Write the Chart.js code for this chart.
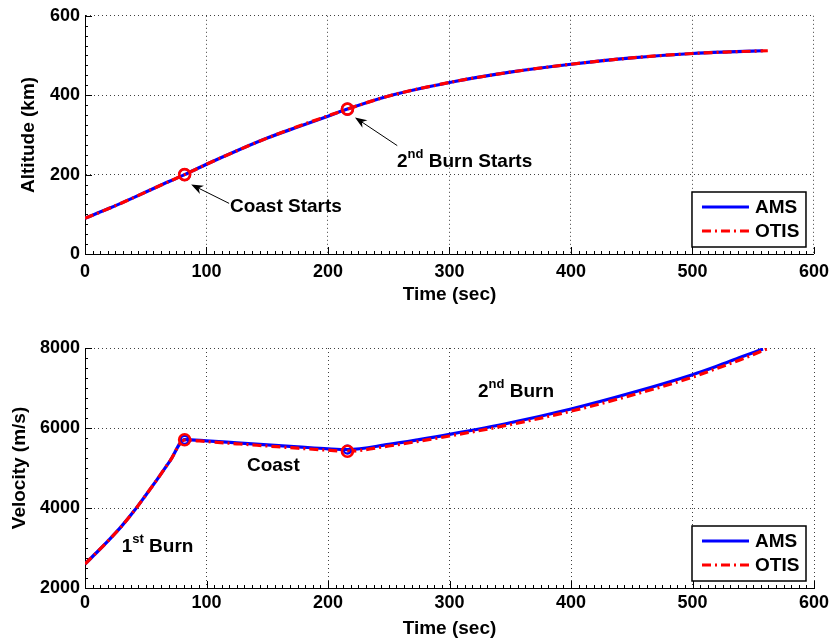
<!DOCTYPE html>
<html>
<head>
<meta charset="utf-8">
<script src="https://cdn.jsdelivr.net/npm/chart.js@4.4.0/dist/chart.umd.min.js"></script>
<style>
  html, body { margin: 0; padding: 0; background: #fff; }
  #wrap { position: relative; width: 836px; height: 643px; }
  canvas { position: absolute; left: 0; }
  #altitude { top: 0; }
  #velocity { top: 320px; }
</style>
</head>
<body>
<div id="wrap">
  <canvas id="altitude" width="836" height="320"></canvas>
  <canvas id="velocity" width="836" height="323"></canvas>
</div>
<script>
// altitude history (km)
const amsAltTime  = [0, 20, 40, 60, 82, 100, 125, 150, 175, 200, 216, 250, 300, 350, 400, 450, 500, 530, 558];
const amsAlt      = [90, 115, 142, 170, 200, 226, 260, 292, 320, 347, 365, 398, 432, 458, 478, 494, 505, 509, 512];
const otisAltTime = [0, 20, 40, 60, 82, 100, 125, 150, 175, 200, 216, 250, 300, 350, 400, 450, 500, 530, 562];
const otisAlt     = [90, 115, 142, 170, 200, 226, 260, 292, 321, 348, 365, 398, 432, 458, 478, 494, 505, 509, 512];

// velocity history (m/s)
const amsVelTime  = [0, 10, 20, 30, 40, 50, 60, 70, 82, 100, 125, 150, 175, 200, 216, 250, 275, 300, 350, 400, 450, 500, 520, 540, 558];
const amsVel      = [2600, 2900, 3210, 3540, 3910, 4320, 4740, 5180, 5710, 5680, 5630, 5580, 5530, 5480, 5460,
                     5590, 5710, 5840, 6130, 6475, 6880, 7333, 7545, 7775, 7975];
const otisVelTime = [0, 10, 20, 30, 40, 50, 60, 70, 82, 100, 125, 150, 175, 200, 216, 250, 275, 300, 350, 400, 450, 500, 520, 540, 562];
const otisVel     = [2600, 2900, 3210, 3540, 3910, 4320, 4740, 5180, 5700, 5660, 5605, 5550, 5495, 5445, 5420,
                     5550, 5670, 5800, 6085, 6420, 6820, 7270, 7490, 7715, 7985];

// burn / coast switch points
const eventTime    = [82, 216];
const amsEventAlt  = [200, 365];
const otisEventAlt = [200, 365];
const amsEventVel  = [5705, 5460];
const otisEventVel = [5705, 5420];

const timeTicks = [0, 100, 200, 300, 400, 500, 600];
const altTicks  = [0, 200, 400, 600];
const velTicks  = [2000, 4000, 6000, 8000];

const FONT = "'Liberation Sans', Arial, Helvetica, sans-serif";
Chart.defaults.font.family = FONT;
Chart.defaults.font.weight = 'bold';
Chart.defaults.color = '#000';

const pts = (xs, ys) => xs.map((x, i) => ({ x: x, y: ys[i] }));

// MATLAB-like inward ticks on the left and bottom axes
const inwardTicks = {
  id: 'inwardTicks',
  afterDatasetsDraw(chart) {
    const { ctx, chartArea: a, scales: { x, y } } = chart;
    ctx.save();
    ctx.strokeStyle = '#000';
    ctx.lineWidth = 1;
    ctx.beginPath();
    const xStep = 100 / 16, yStep = (y.max - y.min) / 3 / 8;
    for (let v = x.min; v <= x.max + 1e-6; v += xStep) {
      const px = Math.round(x.getPixelForValue(v)) + 0.5;
      const major = Math.abs(v / 100 - Math.round(v / 100)) < 1e-6;
      ctx.moveTo(px, a.bottom);
      ctx.lineTo(px, a.bottom - (major ? 7 : 3));
    }
    for (let v = y.min; v <= y.max + 1e-6; v += yStep) {
      const py = Math.round(y.getPixelForValue(v)) + 0.5;
      const major = Math.abs((v - y.min) / (yStep * 8) - Math.round((v - y.min) / (yStep * 8))) < 1e-6;
      ctx.moveTo(a.left, py);
      ctx.lineTo(a.left + (major ? 7 : 3), py);
    }
    ctx.stroke();
    ctx.restore();
  }
};

function drawRich(ctx, parts, x, y) {
  let cx = x;
  parts.forEach(([txt, sup]) => {
    ctx.font = 'bold ' + (sup ? 13 : 19) + 'px ' + FONT;
    ctx.fillText(txt, cx, sup ? y - 9.5 : y);
    cx += ctx.measureText(txt).width;
  });
}

function drawArrow(ctx, x1, y1, x2, y2) {
  const a = Math.atan2(y2 - y1, x2 - x1);
  const c = Math.cos(a), s = Math.sin(a);
  const L = 12, W = 4.5;
  ctx.beginPath();
  ctx.moveTo(x1, y1);
  ctx.lineTo(x2 - c * 8, y2 - s * 8);
  ctx.stroke();
  ctx.beginPath();
  ctx.moveTo(x2, y2);
  ctx.lineTo(x2 - c * L - s * W, y2 - s * L + c * W);
  ctx.lineTo(x2 - c * L * 0.7, y2 - s * L * 0.7);
  ctx.lineTo(x2 - c * L + s * W, y2 - s * L - c * W);
  ctx.closePath();
  ctx.fill();
}

// text labels and arrows placed in data coordinates
function notesPlugin(notes, arrows) {
  return {
    id: 'notes',
    afterDatasetsDraw(chart) {
      const { ctx, scales: { x, y } } = chart;
      ctx.save();
      ctx.fillStyle = '#000';
      ctx.strokeStyle = '#000';
      ctx.lineWidth = 1;
      ctx.textBaseline = 'alphabetic';
      ctx.textAlign = 'left';
      notes.forEach(n => drawRich(ctx, n.parts, x.getPixelForValue(n.t), y.getPixelForValue(n.v)));
      arrows.forEach(ar => drawArrow(ctx,
        x.getPixelForValue(ar.from[0]), y.getPixelForValue(ar.from[1]),
        x.getPixelForValue(ar.to[0]), y.getPixelForValue(ar.to[1])));
      ctx.restore();
    }
  };
}

// boxed legend in the lower right corner of the axes
const boxLegend = {
  id: 'boxLegend',
  afterDraw(chart) {
    const { ctx, chartArea: a } = chart;
    const w = 114, h = 55;
    const left = a.right - 8 - w, top = a.bottom - 7 - h;
    ctx.save();
    ctx.fillStyle = '#fff';
    ctx.fillRect(left, top, w, h);
    ctx.strokeStyle = '#000';
    ctx.lineWidth = 1.5;
    ctx.strokeRect(left, top, w, h);
    const rows = chart.data.datasets.filter(d => d.showLine);
    rows.sort((p, q) => p.legendRow - q.legendRow);
    rows.forEach((d, i) => {
      const cy = top + 15 + i * 24;
      ctx.beginPath();
      ctx.setLineDash(d.borderDash || []);
      ctx.strokeStyle = d.borderColor;
      ctx.lineWidth = d.borderWidth;
      ctx.moveTo(left + 10, cy);
      ctx.lineTo(left + 57, cy);
      ctx.stroke();
      ctx.setLineDash([]);
      ctx.fillStyle = '#000';
      ctx.font = 'bold 19px ' + FONT;
      ctx.textBaseline = 'middle';
      ctx.fillText(d.label, left + 63, cy + 1);
    });
    ctx.restore();
  }
};

function buildChart(canvas, spec) {
  const gridColor = 'rgba(0,0,0,0.75)';
  return new Chart(canvas, {
    type: 'scatter',
    data: {
      datasets: [
        { label: 'AMS', data: spec.ams, showLine: true, legendRow: 0, borderColor: '#0000ff', borderWidth: 3.2,
          pointRadius: 0, cubicInterpolationMode: 'monotone', order: 3 },
        { label: 'OTIS', data: spec.otis, showLine: true, legendRow: 1, borderColor: '#ff0000', borderWidth: 3.2,
          borderDash: [9, 4, 2, 4], pointRadius: 0, cubicInterpolationMode: 'monotone', order: 2 },
        { label: 'AMS switch', data: spec.amsEvents, showLine: false, pointRadius: spec.amsMarker,
          pointBorderColor: '#0000ff', pointBackgroundColor: 'rgba(0,0,0,0)', pointBorderWidth: 2.2, order: 1 },
        { label: 'OTIS switch', data: spec.otisEvents, showLine: false, pointRadius: 5.5,
          pointBorderColor: '#ff0000', pointBackgroundColor: 'rgba(0,0,0,0)', pointBorderWidth: 2.6, order: 0 }
      ]
    },
    options: {
      responsive: false,
      animation: false,
      devicePixelRatio: 1,
      layout: { padding: { top: spec.padTop, right: 22, bottom: 0, left: 0 } },
      plugins: { legend: { display: false }, tooltip: { enabled: false } },
      scales: {
        x: {
          type: 'linear', min: 0, max: 600,
          afterFit: s => { s.height = spec.xHeight; },
          afterBuildTicks: s => { s.ticks = timeTicks.map(v => ({ value: v })); },
          ticks: { font: { size: 18, weight: 'bold' }, color: '#000', padding: spec.xTickPad, maxRotation: 0,
                   callback: v => String(v) },
          grid: { color: gridColor, drawTicks: false, lineWidth: 1 },
          border: { display: true, color: '#000', width: 1, dash: [1, 3] },
          title: { display: true, text: 'Time (sec)', color: '#000', font: { size: 19, weight: 'bold' },
                   padding: { top: 0, bottom: spec.xTitlePad } }
        },
        y: {
          type: 'linear', min: spec.yTicks[0], max: spec.yTicks[spec.yTicks.length - 1],
          afterFit: s => { s.width = 85; },
          afterBuildTicks: s => { s.ticks = spec.yTicks.map(v => ({ value: v })); },
          ticks: { font: { size: 18, weight: 'bold' }, color: '#000', padding: 5, callback: v => String(v) },
          grid: { color: gridColor, drawTicks: false, lineWidth: 1 },
          border: { display: true, color: '#000', width: 1, dash: [1, 3] },
          title: { display: true, text: spec.yTitle, color: '#000', font: { size: 19, weight: 'bold' },
                   padding: { top: spec.yTitlePad, bottom: 0 } }
        }
      }
    },
    plugins: [inwardTicks, notesPlugin(spec.notes, spec.arrows), boxLegend]
  });
}

buildChart(document.getElementById('altitude'), {
  ams: pts(amsAltTime, amsAlt),
  otis: pts(otisAltTime, otisAlt),
  amsEvents: pts(eventTime, amsEventAlt),
  otisEvents: pts(eventTime, otisEventAlt),
  amsMarker: 5.5,
  yTicks: altTicks,
  yTitle: 'Altitude (km)',
  yTitlePad: 17,
  padTop: 14,
  xHeight: 66,
  xTickPad: 7,
  xTitlePad: 14,
  notes: [
    { t: 119.3, v: 105, parts: [['Coast Starts', false]] },
    { t: 256.8, v: 218, parts: [['2', false], ['nd', true], [' Burn Starts', false]] }
  ],
  arrows: [
    { from: [118.6, 127.5], to: [87.4, 175] },
    { from: [257, 273], to: [222.2, 344] }
  ]
});

buildChart(document.getElementById('velocity'), {
  ams: pts(amsVelTime, amsVel),
  otis: pts(otisVelTime, otisVel),
  amsEvents: pts(eventTime, amsEventVel),
  otisEvents: pts(eventTime, otisEventVel),
  amsMarker: 4,
  yTicks: velTicks,
  yTitle: 'Velocity (m/s)',
  yTitlePad: 8,
  padTop: 28,
  xHeight: 55,
  xTickPad: 4,
  xTitlePad: 3,
  notes: [
    { t: 30.2, v: 2900, parts: [['1', false], ['st', true], [' Burn', false]] },
    { t: 133.3, v: 4915, parts: [['Coast', false]] },
    { t: 323.5, v: 6775, parts: [['2', false], ['nd', true], [' Burn', false]] }
  ],
  arrows: []
});
</script>
</body>
</html>
